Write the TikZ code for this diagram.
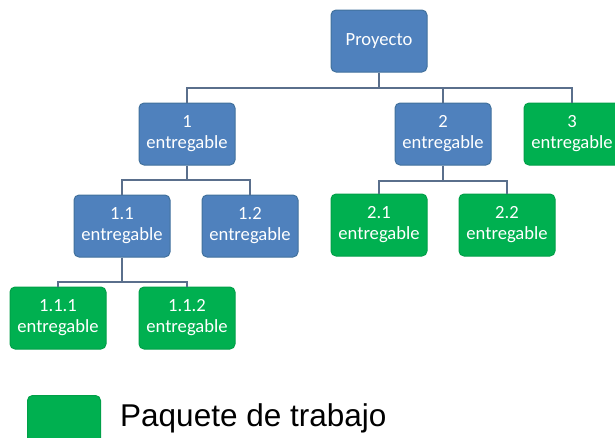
\documentclass[tikz,border=0pt]{standalone}
\usepackage{fontspec}
\setmainfont{Carlito}
\newfontfamily\legendfont{Liberation Sans}
\definecolor{wbsblue}{HTML}{4F81BD}
\definecolor{wbsblueline}{HTML}{41719C}
\definecolor{wbsgreen}{HTML}{00B050}
\definecolor{wbsgreenline}{HTML}{00A048}
\definecolor{wbslink}{HTML}{5A6F8C}
\tikzset{
  wbsbox/.style={rounded corners=5pt, minimum width=96pt, minimum height=62pt,
    inner sep=0pt, align=center, text=white, font=\fontsize{18.6}{21}\selectfont, line width=1pt},
  deliv/.style={wbsbox, fill=wbsblue, draw=wbsblueline},
  wpack/.style={wbsbox, fill=wbsgreen, draw=wbsgreenline},
  link/.style={draw=wbslink, line width=2pt}
}
\begin{document}
\begin{tikzpicture}[x=1pt, y=-1pt]
      \useasboundingbox (0,0) rectangle (615,437);
      \node[deliv] (pid0) at (379,41) {Proyecto};
      \node[deliv] (pid1) at (187,134) {1\\entregable};
      \node[deliv] (pid2) at (443,134) {2\\entregable};
      \node[wpack] (pid3) at (572,134) {3\\entregable};
      \draw[link] (pid0.south) -- ++(0,15) -| (pid1.north);
      \draw[link] (pid0.south) -- ++(0,15) -| (pid2.north);
      \draw[link] (pid0.south) -- ++(0,15) -| (pid3.north);
      \node[deliv] (pid11) at (122,226) {1.1\\entregable};
      \node[deliv] (pid12) at (250,226) {1.2\\entregable};
      \draw[link] (pid1.south) -- ++(0,14) -| (pid11.north);
      \draw[link] (pid1.south) -- ++(0,14) -| (pid12.north);
      \node[wpack] (pid21) at (379,225) {2.1\\entregable};
      \node[wpack] (pid22) at (507,225) {2.2\\entregable};
      \draw[link] (pid2.south) -- ++(0,15) -| (pid21.north);
      \draw[link] (pid2.south) -- ++(0,15) -| (pid22.north);
      \node[wpack] (pid111) at (58,318) {1.1.1\\entregable};
      \node[wpack] (pid112) at (187,318) {1.1.2\\entregable};
      \draw[link] (pid11.south) -- ++(0,24) -| (pid111.north);
      \draw[link] (pid11.south) -- ++(0,24) -| (pid112.north);
      % legend
      \node[wpack, minimum width=73pt, minimum height=56pt, anchor=north west] (legbox) at (27,395) {};
      \node[anchor=west, font=\legendfont\fontsize{31.5}{36}\selectfont, inner sep=0pt] (legtext) at (120,418) {Paquete de trabajo};
    \end{tikzpicture}
\end{document}
